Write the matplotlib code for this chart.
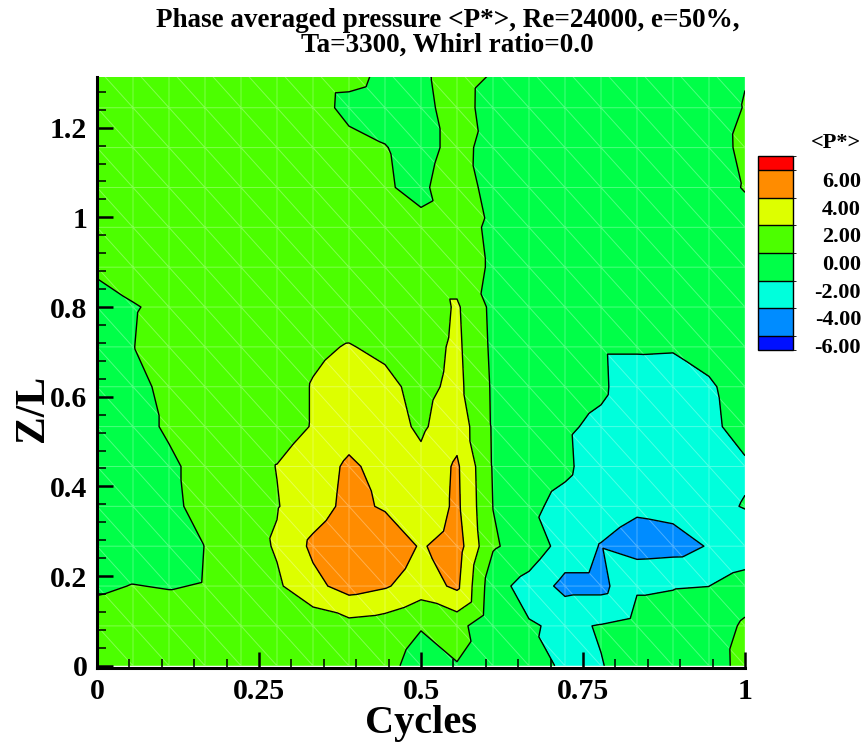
import numpy as np
import matplotlib
matplotlib.use("Agg")
import matplotlib.pyplot as plt
import matplotlib.tri as mtri
from matplotlib.colors import ListedColormap, BoundaryNorm
from matplotlib.colorbar import ColorbarBase

plt.rcParams['font.family'] = ['Liberation Serif', 'DejaVu Serif']
plt.rcParams['font.weight'] = 'bold'
plt.rcParams['contour.negative_linestyle'] = 'solid'

# measurement grid: 19 phase stations x 16 axial stations
cycles = np.linspace(0.0, 1.0, 19)
zl = np.linspace(0.0, 4.0 / 3.0, 16)

# phase averaged <P*> at the nodes, first row is the top station (Z/L=1.33)
p_rows = [
    [1.0, 1.0, 1.0, 1.0, 1.0, 1.0, 1.0, 0.9, -0.45, -0.6, 1.54, 0.1, -1.0, -1.0, -1.0, -1.0, -1.0, -1.0, -0.13],
    [1.0, 1.0, 1.0, 1.0, 1.0, 1.0, 0.9, -0.6, -1.0, -1.0, 1.5, -1.5, -1.2, -1.2, -1.2, -1.2, -1.2, -1.15, 0.1],
    [1.0, 1.0, 1.0, 1.0, 1.0, 1.0, 1.0, 0.7, 0.1, -1.0, 0.89, -1.04, -1.2, -1.2, -1.2, -1.2, -1.2, -1.2, 0.6],
    [1.0, 1.0, 1.0, 1.0, 1.0, 1.0, 1.0, 1.0, 0.2, -0.5, 1.58, -1.1, -1.2, -1.2, -1.2, -1.2, -1.2, -1.0, 0.14],
    [1.0, 1.0, 1.0, 1.0, 1.0, 1.0, 1.0, 1.0, 1.0, 0.5, 1.0, -0.47, -1.1, -1.2, -1.2, -1.2, -1.2, -1.0, -1.0],
    [0.4, 1.05, 1.0, 1.0, 1.0, 1.0, 1.0, 1.0, 1.0, 1.0, 1.0, -0.27, -1.0, -1.1, -1.2, -1.2, -1.2, -1.0, -0.8],
    [-1.0, -0.15, 0.53, 1.0, 1.0, 1.0, 1.0, 1.1, 1.0, 0.7, 2.25, -0.5, -1.1, -1.2, -1.3, -1.3, -1.3, -1.2, -1.0],
    [-1.0, -0.05, 1.0, 1.0, 1.0, 1.0, 1.7, 2.1, 1.6, 1.1, 2.39, -0.39, -1.2, -1.3, -1.8, -1.8, -1.85, -1.2, -1.0],
    [-1.0, -1.0, 0.9, 1.0, 1.0, 1.1, 2.1, 2.6, 2.5, 1.4, 2.53, -0.25, -1.2, -1.4, -1.75, -2.9, -2.85, -2.28, -1.0],
    [-1.0, -1.0, 0.38, 1.0, 1.0, 1.2, 2.1, 3.2, 2.8, 1.7, 3.2, -0.2, -1.2, -1.8, -2.3, -3.0, -3.0, -2.41, -1.3],
    [-1.0, -1.0, -0.5, 1.0, 1.1, 2.05, 3.0, 4.33, 3.33, 2.5, 4.3, -0.15, -1.3, -1.73, -2.8, -3.0, -3.0, -2.8, -2.26],
    [-1.0, -1.0, -0.7, 1.0, 1.2, 1.9, 3.15, 4.5, 3.8, 2.5, 4.4, -0.02, -1.7, -2.42, -3.0, -3.66, -3.43, -2.5, -1.9],
    [-1.0, -1.0, -1.0, 0.03, 1.0, 2.2, 4.4, 5.5, 5.3, 3.82, 4.9, 0.2, -0.8, -2.8, -4.1, -4.9, -4.73, -3.88, -3.35],
    [-0.25, 0.05, -0.1, 0.1, 1.0, 1.7, 3.44, 4.8, 4.2, 3.0, 4.4, -1.31, -2.7, -4.6, -4.6, -2.18, -2.07, -2.01, -1.06],
    [0.8, 1.0, 1.0, 1.0, 1.0, 0.9, 0.7, 1.3, 1.0, 0.1, 0.7, -1.6, -1.85, -2.3, -1.9, -1.4, -1.4, -1.1, 0.3],
    [1.0, 1.0, 1.0, 1.0, 1.0, 1.0, 1.0, 1.0, 0.5, -0.7, -0.08, -1.1, -1.0, -2.4, -2.05, -1.5, -1.3, -1.15, 0.8],
]

levels = [-6, -4, -2, 0, 2, 4, 6]
level_labels = ["6.00", "4.00", "2.00", "0.00", "-2.00", "-4.00", "-6.00"]
band_colors = ["#0010ff", "#008cff", "#00ffdc", "#00ff48",
               "#4cff00", "#ddff00", "#ff8c00", "#ff0000"]

xticks = [0, 0.25, 0.5, 0.75, 1]
xtick_labels = ["0", "0.25", "0.5", "0.75", "1"]
yticks = [0, 0.2, 0.4, 0.6, 0.8, 1.0, 1.2]
ytick_labels = ["0", "0.2", "0.4", "0.6", "0.8", "1", "1.2"]

p = np.array(p_rows[::-1])
nx, nz = len(cycles), len(zl)
X, Z = np.meshgrid(cycles, zl)

# split every cell along the top-left / bottom-right diagonal
tris = []
for k in range(nz - 1):
    for i in range(nx - 1):
        n = k * nx + i
        tris.append([n, n + 1, n + nx])
        tris.append([n + 1, n + nx + 1, n + nx])
tri = mtri.Triangulation(X.ravel(), Z.ravel(), tris)

W, H = 867, 744
fig = plt.figure(figsize=(W / 100, H / 100), dpi=100)
ax = fig.add_axes([97 / W, 76 / H, 648 / W, 591 / H])

fill_levels = [-100] + levels + [100]
ax.tricontourf(tri, p.ravel(), levels=fill_levels, colors=band_colors)
ax.triplot(tri, color="white", alpha=0.3, lw=0.7)
ax.tricontour(tri, p.ravel(), levels=levels, colors="k", linewidths=1.0,
              linestyles="solid")

ax.set_xlim(0, 1)
ax.set_ylim(-0.005, 1.313)

for s in ["top", "right"]:
    ax.spines[s].set_visible(False)
for s in ["left", "bottom"]:
    ax.spines[s].set_linewidth(2.2)

ax.set_xticks(xticks)
ax.set_xticklabels(xtick_labels)
ax.set_yticks(yticks)
ax.set_yticklabels(ytick_labels)
ax.set_xticks(np.arange(0, 1.001, 0.05), minor=True)
ax.set_yticks(np.arange(0, 1.31, 0.04), minor=True)
ax.tick_params(which="major", direction="in", length=11.5, width=1.8,
               labelsize=21.5, pad=7)
ax.tick_params(which="minor", direction="in", length=6.5, width=1.1)
ax.tick_params(top=False, right=False, which="both")

ax.set_xlabel("Cycles", fontsize=29, fontweight="bold")
ax.set_ylabel("Z/L", fontsize=30, fontweight="bold")
ax.yaxis.set_label_coords(-0.069, 0.44)
ax.xaxis.set_label_coords(0.5, -0.062)

fig.text(0.516, 0.989, "Phase averaged pressure <P*>, Re=24000, e=50%,\nTa=3300, Whirl ratio=0.0",
         ha="center", va="top", fontsize=19.5, fontweight="bold", linespacing=0.98)

# legend: bands from -7 to 7 so the two end boxes come out half height
cax = fig.add_axes([758 / W, (H - 350) / H, 35 / W, 194 / H])
cb = ColorbarBase(cax, cmap=ListedColormap(band_colors),
                  norm=BoundaryNorm([-7] + levels + [7], len(band_colors)),
                  boundaries=[-7] + levels + [7], spacing="proportional",
                  drawedges=True)
cb.set_ticks([])
cb.outline.set_linewidth(1.0)
cb.dividers.set_linewidth(1.0)

box_top = 156
box_px = 194 / 14.0
for lev, lab in zip(levels[::-1], level_labels):
    y_px = box_top + (7 - lev) * box_px + 12
    fig.text(861 / W, 1 - y_px / H, lab, ha="right", va="center",
             fontsize=16, fontweight="bold")
fig.text(861 / W, 1 - 143 / H, "<P*>", ha="right", va="center",
         fontsize=16, fontweight="bold")

fig.savefig("out.png", dpi=100)
